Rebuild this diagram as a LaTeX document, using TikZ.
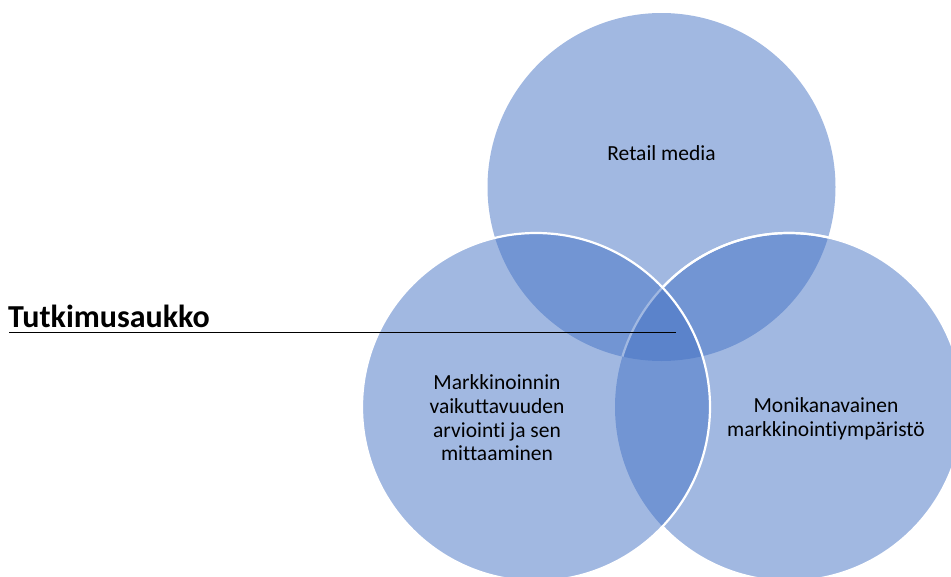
\documentclass[tikz,border=0pt]{standalone}
\usepackage{fontspec}
\setmainfont{Carlito}[RawFeature={-liga;-clig;-dlig}]
\definecolor{vennblue}{HTML}{4472C4}
\begin{document}
\begin{tikzpicture}[x=1pt,y=-1pt,
  vennfill/.style={fill=vennblue, fill opacity=0.5, draw=none},
  vennline/.style={draw=white, line width=2.2pt},
  vlabel/.style={align=center, font=\fontsize{21.5}{23.6}\selectfont, text=black, inner sep=0pt},
  gaplabel/.style={font=\fontsize{32}{36}\selectfont\bfseries, text=black, inner sep=0pt, anchor=base west}]
\useasboundingbox (0,0) rectangle (951,576);
\coordinate (ctop) at (661.5,187);
\coordinate (cleft) at (536,407);
\coordinate (cright) at (789,407);
% top circle
\path[vennfill] (ctop) circle (174);
% right circle
\path[vennfill] (cright) circle (174);
\begin{scope}
  \clip (ctop) circle (174);
  \path[vennline] (cright) circle (174);
\end{scope}
\begin{scope}[even odd rule]
  \clip (-10,-10) rectangle (1000,600) (cleft) circle (174);
  \path[vennline] (cright) circle (174);
\end{scope}
% left circle
\path[vennfill] (cleft) circle (174);
\path[vennline] (cleft) circle (174);
% labels
\node[vlabel] (rm) at (661.5,153) {Retail media};
\node[vlabel] (mv) at (497,418) {Markkinoinnin\\vaikuttavuuden\\arviointi ja sen\\mittaaminen};
\node[vlabel] (mk) at (826,419) {Monikanavainen\\markkinointiympäristö};
\node[gaplabel] (tutk) at (8,327) {Tutkimusaukko};
\coordinate (lstart) at (9,332.5);
\coordinate (gap) at (676,332.5);
\draw[black, line width=1.2pt] (lstart) -- (gap);
\end{tikzpicture}
\end{document}
